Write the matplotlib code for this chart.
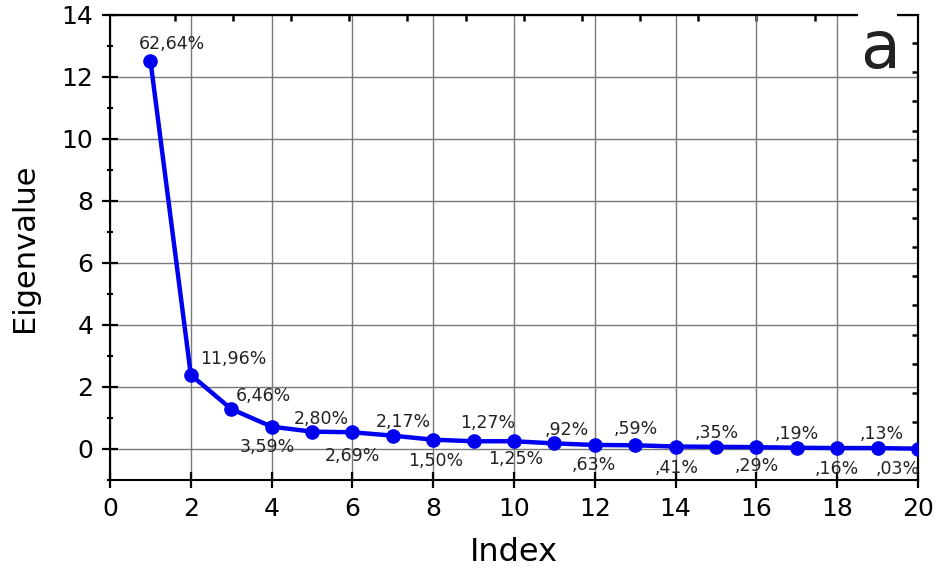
import numpy as np
import matplotlib.pyplot as plt
from matplotlib.ticker import MultipleLocator
from matplotlib.patches import Rectangle

plt.rcParams['font.family'] = ['DejaVu Sans']

# Scree plot data
index = list(range(1, 21))
eigenvalue = [12.53, 2.39, 1.29, 0.72, 0.56, 0.54, 0.43, 0.30, 0.25, 0.25,
              0.18, 0.13, 0.12, 0.08, 0.07, 0.06, 0.04, 0.03, 0.03, 0.01]
pct_labels = ['62,64%', '11,96%', '6,46%', '3,59%', '2,80%', '2,69%', '2,17%',
              '1,50%', '1,27%', '1,25%', ',92%', ',63%', ',59%', ',41%',
              ',35%', ',29%', ',19%', ',16%', ',13%', ',03%']

# label offsets in pixels (dx, dy) relative to each point
offsets = [(21, 17), (42, 16), (32, 13), (-4, -20), (9, 13), (0, -24),
           (10, 14), (2, -21), (14, 18), (2, -18), (12, 13), (-1, -20),
           (1, 16), (1, -21), (1, 14), (0, -19), (0, 14), (0, -21),
           (4, 14), (-20, -20)]

fig = plt.figure(figsize=(9.47, 5.70), dpi=100)
ax = fig.add_axes([0.1162, 0.1579, 0.8532, 0.8158])

ax.plot(index, eigenvalue, color='#0000f0', lw=3.2, marker='o', ms=9.5, zorder=3)

for x, y, lab, (dx, dy) in zip(index, eigenvalue, pct_labels, offsets):
    ax.annotate(lab, (x, y), xytext=(dx, dy), textcoords='offset pixels',
                ha='center', va='center', fontsize=12.5, color='#222222', zorder=4)

ax.set_xlim(0, 20)
ax.set_ylim(-1, 14)
ax.xaxis.set_major_locator(MultipleLocator(2))
ax.yaxis.set_major_locator(MultipleLocator(2))
ax.yaxis.set_minor_locator(MultipleLocator(1))

ax.grid(True, which='major', color='#7a7a7a', lw=1)
ax.set_axisbelow(True)
ax.tick_params(which='major', direction='inout', length=12, width=1.6,
               labelsize=18, pad=6)
ax.tick_params(axis='y', which='minor', direction='inout', length=4.5, width=1.5)
for s in ax.spines.values():
    s.set_linewidth(1.5)

# short inward ticks on top and right (offset scale as in the original)
top = ax.secondary_xaxis('top')
top.set_xticks(np.arange(1.6, 19.6, 1.44))
top.tick_params(direction='in', length=4, width=1.8, labeltop=False)
top.spines['top'].set_linewidth(1.5)
right = ax.secondary_yaxis('right')
right.set_yticks(np.arange(0.87, 13.5, 0.94))
right.tick_params(direction='in', length=4, width=1.8, labelright=False)
right.spines['right'].set_linewidth(1.5)

ax.set_xlabel('Index', fontsize=23, labelpad=12)
ax.set_ylabel('Eigenvalue', fontsize=22, labelpad=16)

# white patch behind the panel letter (covers grid and top spine)
fig.patches.append(Rectangle((858 / 947, 1 - 76 / 570), 39 / 947, 76 / 570,
                             transform=fig.transFigure, facecolor='white',
                             edgecolor='none', zorder=10))
fig.text(880 / 947, 1 - 50 / 570, 'a', ha='center', va='center',
         fontsize=47, color='#222222', zorder=11)

fig.savefig('out.png', dpi=100)
